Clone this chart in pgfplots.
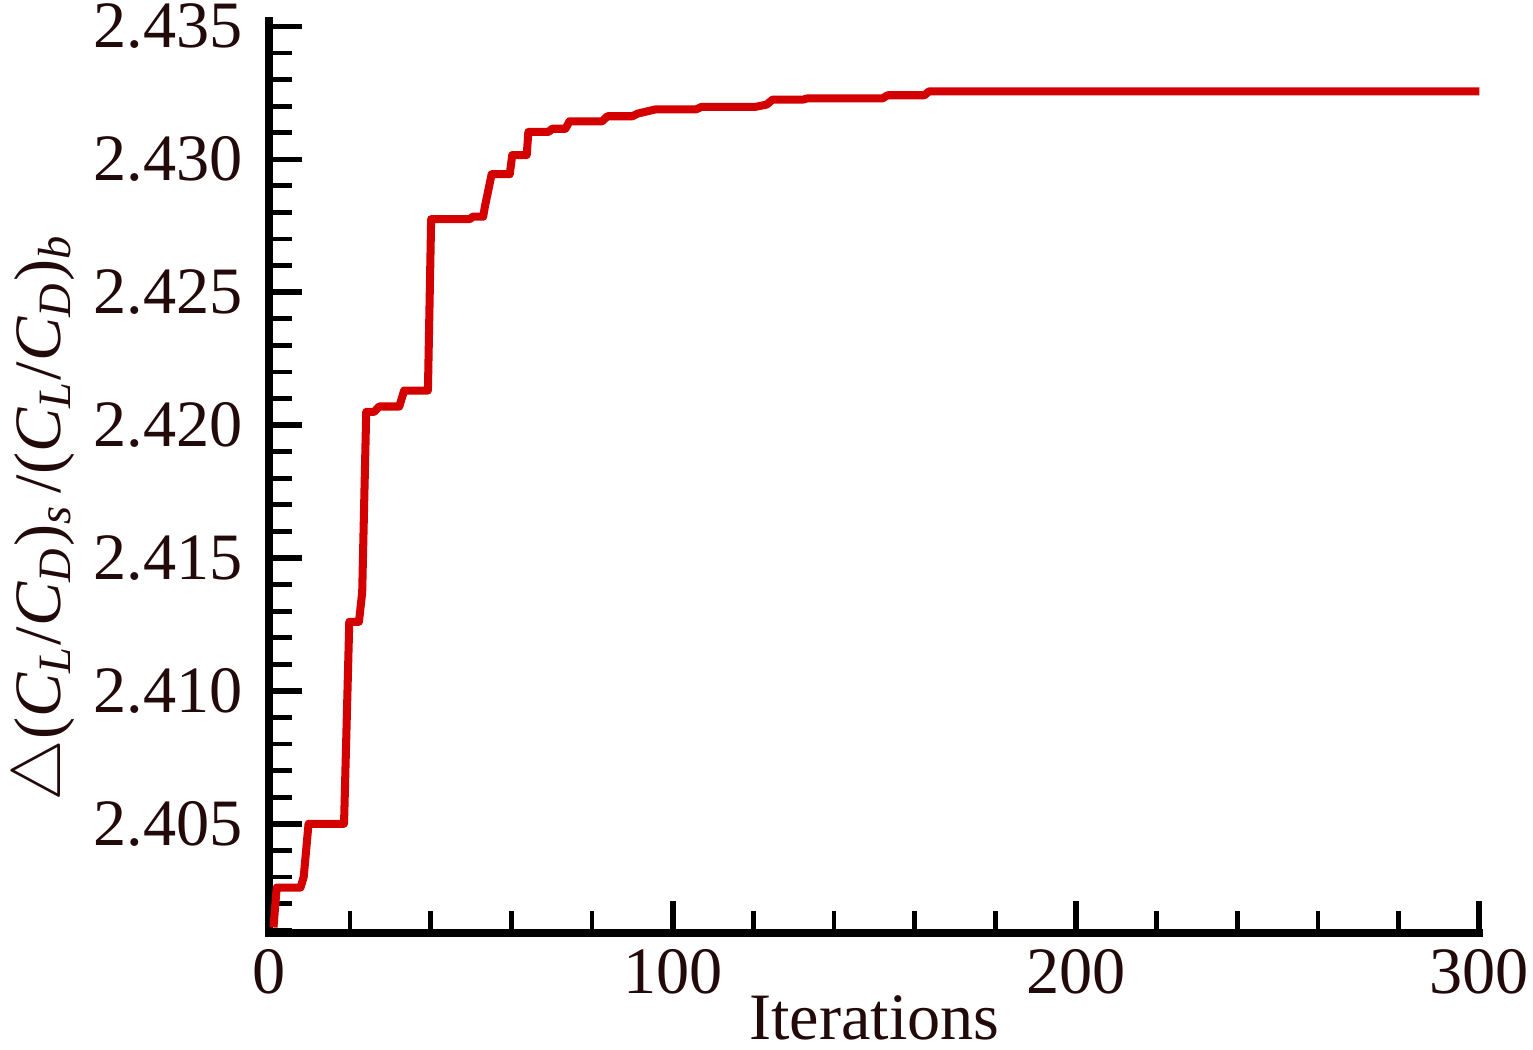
\documentclass[border=0pt]{standalone}
\usepackage{fontspec}
\setmainfont{Liberation Serif}
\usepackage{pgfplots}
\pgfplotsset{compat=1.18}
\definecolor{txt}{RGB}{35,10,10}
\definecolor{curve}{RGB}{212,0,0}
\begin{document}
\begin{tikzpicture}[font=\fontsize{16.5}{19}\selectfont, color=txt]
\begin{axis}[
  scale only axis,
  width=301.25pt, height=227pt,
  xmin=0, xmax=300,
  ymin=2.4009, ymax=2.4352,
  axis x line*=bottom, axis y line*=left,
  axis line style={line width=2pt, color=black, line cap=rect},
  tick align=inside,
  xtick={0,100,200,300},
  minor xtick={20,40,60,80,120,140,160,180,220,240,260,280},
  ytick={2.405,2.410,2.415,2.420,2.425,2.430,2.435},
  minor ytick={2.401,2.402,2.403,2.404,2.406,2.407,2.408,2.409,2.411,2.412,2.413,2.414,2.416,2.417,2.418,2.419,2.421,2.422,2.423,2.424,2.426,2.427,2.428,2.429,2.431,2.432,2.433,2.434},
  major tick length=8pt, minor tick length=5.5pt,
  every major tick/.append style={line width=1.4pt, color=black},
  every minor tick/.append style={line width=1.2pt, color=black},
  yticklabel style={/pgf/number format/.cd, fixed, fixed zerofill, precision=3, /tikz/.cd, xshift=-5.5pt},
  /pgf/number format/assume math mode=true,
  every tick label/.append style={font=\fontsize{16.5}{19}\selectfont, color=txt, inner sep=1pt},
  xticklabel style={yshift=-3pt},
  xlabel={Iterations},
  xlabel style={at={(axis description cs:0.5,0)}, anchor=base, yshift=-26.5pt, inner sep=2.5pt, font=\fontsize{16.5}{19}\selectfont, color=txt},
  ylabel={$\bigtriangleup$(\textit{C}\textsubscript{\textit{L}}/\textit{C}\textsubscript{\textit{D}})\textsubscript{\textit{s}}\,/(\textit{C}\textsubscript{\textit{L}}/\textit{C}\textsubscript{\textit{D}})\textsubscript{\textit{b}}},
  ylabel style={at={(axis description cs:-0.187,0.455)}, anchor=center, inner sep=3pt, font=\fontsize{16.5}{19}\selectfont, color=txt},
  clip=false,
]
\addplot[color=curve, line width=2pt, line join=round] coordinates {
(1.0,2.4011) (1.8,2.4026) (7.7,2.4026) (8.5,2.4030) (9.7,2.4050)
(18.5,2.4050) (19.8,2.4126) (22.2,2.4126) (23.0,2.4137) (24.0,2.4205)
(26.0,2.4205) (27.2,2.4207) (32.2,2.4207) (33.4,2.4213) (39.3,2.4213)
(40.1,2.42775) (49.7,2.42775) (50.4,2.42784) (53.0,2.42784) (53.4,2.4282)
(55.1,2.42944) (59.6,2.42944) (60.2,2.43016) (63.8,2.43016) (64.2,2.43103)
(69.2,2.43103) (70.1,2.43115) (73.4,2.43115) (74.4,2.43143) (82.5,2.43143)
(83.8,2.43162) (90.0,2.43162) (91.3,2.43172) (93.8,2.43181) (95.8,2.43188)
(105.8,2.43188) (107.1,2.43197) (120.4,2.43197) (123.3,2.43206) (124.8,2.43225)
(132.4,2.43225) (133.3,2.43229) (152.0,2.43229) (153.3,2.43241) (162.4,2.43241)
(163.6,2.43256) (300,2.43256)
};
\end{axis}
\end{tikzpicture}
\end{document}
